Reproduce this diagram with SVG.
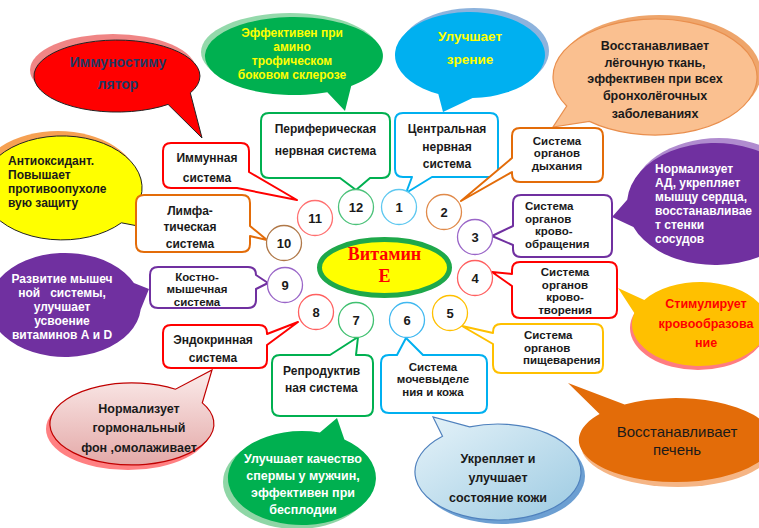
<svg xmlns="http://www.w3.org/2000/svg" width="759" height="528" viewBox="0 0 759 528">
<defs>
<linearGradient id="gPink" x1="0" y1="0" x2="0" y2="1"><stop offset="0" stop-color="#fbeceb"/><stop offset="1" stop-color="#e4a9a8"/></linearGradient>
<linearGradient id="gBlue" x1="0" y1="0" x2="1" y2="1"><stop offset="0" stop-color="#e6f3f9"/><stop offset="1" stop-color="#9ccae2"/></linearGradient>
<style>
.t{font-family:"Liberation Sans",Arial,sans-serif;font-weight:bold;font-size:12px;fill:#1a1a1a;text-anchor:middle}
.l{text-anchor:start}
.w{fill:#ffffff}
.y{fill:#ffff00}
.b{font-size:12.5px}
.s{font-size:11.5px}
.box{fill:#ffffff;stroke-width:2;stroke-linejoin:round}
.num{fill:#ffffff;stroke-width:1.3}
.n{font-size:13px}
</style>
</defs>
<rect width="759" height="528" fill="#ffffff"/>

<!-- speech bubbles -->
<g id="bubble-immunostimulator">
<ellipse cx="113" cy="70" rx="83" ry="36" fill="#f08585"/>
<path d="M168.1,104.4 A83,36 0 1 1 190.3,92.9 L202,138 Z" fill="#ff0000" stroke="#222" stroke-width="1"/>
<text class="t" x="118" y="67" style="font-size:14px;fill:#1f3864">Иммуностиму</text>
<text class="t" x="118" y="89" style="font-size:14px;fill:#1f3864">лятор</text>
</g>
<g id="bubble-sclerosis">
<ellipse cx="290" cy="52" rx="89" ry="39" fill="#94d9ab"/>
<path d="M327.3,92.2 A89,39 0 1 1 351.2,85.9 L345,111 Z" fill="#00b050"/>
<text class="t y" x="292" y="37">Эффективен при</text>
<text class="t y" x="292" y="51">амино</text>
<text class="t y" x="292" y="65">трофическом</text>
<text class="t y" x="292" y="79">боковом склерозе</text>
</g>
<g id="bubble-vision">
<ellipse cx="474" cy="51" rx="75" ry="43" fill="#8db3dd"/>
<path d="M438.3,94 A75,43 0 1 1 472.6,98 L443,112 Z" fill="#00b0f0"/>
<text class="t y" x="470" y="41" style="font-size:13.5px">Улучшает</text>
<text class="t y" x="470" y="64" style="font-size:13.5px">зрение</text>
</g>
<g id="bubble-lungs">
<ellipse cx="659" cy="73" rx="102" ry="58" fill="#eea56b"/>
<path d="M566.7,106 A102,58 0 1 1 589.4,121.4 L553,127 Z" fill="#fac090" stroke="#e98f4e" stroke-width="1.2"/>
<text class="t b" x="655" y="49.5">Восстанавливает</text>
<text class="t b" x="655" y="66.5">лёгочную ткань,</text>
<text class="t b" x="655" y="83">эффективен при всех</text>
<text class="t b" x="655" y="100">бронхолёгочных</text>
<text class="t b" x="655" y="117.5">заболеваниях</text>
</g>
<g id="bubble-antioxidant">
<ellipse cx="58" cy="183" rx="80" ry="52" fill="#f6a153"/>
<path d="M121.4,222.8 A80,52 0 1 1 138.1,204.1 L138,226 Z" fill="#ffff00" stroke="#222" stroke-width="1"/>
<text class="t l" x="8" y="164.5">Антиоксидант.</text>
<text class="t l" x="8" y="178.5">Повышает</text>
<text class="t l" x="8" y="192.5">противоопухоле</text>
<text class="t l" x="8" y="206.5">вую защиту</text>
</g>
<g id="bubble-muscles">
<path d="M140.7,309.5 A76,52 0 1 1 133.9,283 L149,289 Z" fill="#7030a0"/>
<text class="t w" x="62" y="283">Развитие мышеч</text>
<text class="t w" x="62" y="297" xml:space="preserve">ной   системы,</text>
<text class="t w" x="62" y="311">улучшает</text>
<text class="t w" x="62" y="325">усвоение</text>
<text class="t w" x="62" y="339">витаминов А и D</text>
</g>
<g id="bubble-heart">
<ellipse cx="719" cy="199" rx="88" ry="61" fill="#b08ccf"/>
<path d="M627.2,199.7 A88,61 0 1 1 633.4,226.9 L612,217 Z" fill="#7030a0"/>
<text class="t w l" x="655" y="173">Нормализует</text>
<text class="t w l" x="655" y="187">АД, укрепляет</text>
<text class="t w l" x="655" y="201">мышцу сердца,</text>
<text class="t w l" x="655" y="215">восстанавливае</text>
<text class="t w l" x="655" y="229">т стенки</text>
<text class="t w l" x="655" y="243">сосудов</text>
</g>
<g id="bubble-blood">
<ellipse cx="698" cy="328" rx="68" ry="42" fill="#ff7c80"/>
<path d="M644.3,299.9 A68,42 0 1 1 634.3,313.1 L618,288 Z" fill="#ffc000"/>
<text class="t b" x="706" y="307.5" style="fill:#ff0000">Стимулирует</text>
<text class="t b" x="706" y="327.5" style="fill:#ff0000">кровообразова</text>
<text class="t b" x="706" y="346.5" style="fill:#ff0000">ние</text>
</g>
<g id="bubble-liver">
<ellipse cx="678" cy="445" rx="97" ry="42" fill="#f5b585"/>
<path d="M624.6,404.4 A97,42 0 1 1 599.6,414.1 L568,383 Z" fill="#e36c09"/>
<text class="t" x="677" y="437" style="font-size:15px;font-weight:normal">Восстанавливает</text>
<text class="t" x="677" y="455" style="font-size:15px;font-weight:normal">печень</text>
</g>
<g id="bubble-skin">
<ellipse cx="502" cy="476" rx="83" ry="48" fill="#6c9fd2"/>
<path d="M469.6,426.9 A83,48 0 1 1 442.5,436.3 L433,417 Z" fill="url(#gBlue)" stroke="#4f81bd" stroke-width="1.2"/>
<text class="t b" x="498" y="462.5">Укрепляет и</text>
<text class="t b" x="498" y="481.5">улучшает</text>
<text class="t b" x="498" y="501.5">состояние кожи</text>
</g>
<g id="bubble-fertility">
<ellipse cx="297" cy="482" rx="74" ry="47" fill="#8fd6a6"/>
<path d="M344.4,439.5 A74,47 0 1 1 319.9,432.4 L337,418 Z" fill="#00b050"/>
<text class="t w b" x="303" y="462.5">Улучшает качество</text>
<text class="t w b" x="303" y="479.5">спермы у мужчин,</text>
<text class="t w b" x="303" y="496.5">эффективен при</text>
<text class="t w b" x="303" y="513.5">бесплодии</text>
</g>
<g id="bubble-hormones">
<ellipse cx="128" cy="429" rx="82" ry="41" fill="#ff8082"/>
<path d="M202.3,402.9 A82,41 0 1 1 175.5,389.2 L212,370 Z" fill="url(#gPink)" stroke="#c00000" stroke-width="1.2"/>
<text class="t b" x="139" y="412.5">Нормализует</text>
<text class="t b" x="139" y="431.5">гормональный</text>
<text class="t b" x="139" y="451.5">фон ,омолаживает</text>
</g>

<!-- system callouts -->
<g id="box-immune">
<path class="box" stroke="#ff0000" d="M171,143 H241 Q249,143 249,151 V172 L297,200 L237,188 H171 Q163,188 163,180 V151 Q163,143 171,143 Z"/>
<text class="t" x="207" y="161.5">Иммунная</text>
<text class="t" x="207" y="181.5">система</text>
</g>
<g id="box-peripheral">
<path class="box" stroke="#00b050" d="M269,113 H382 Q390,113 390,121 V170 Q390,178 382,178 H370 L356,190 L340,178 H269 Q261,178 261,170 V121 Q261,113 269,113 Z"/>
<text class="t" x="325.5" y="132.5">Периферическая</text>
<text class="t" x="325.5" y="154.5">нервная система</text>
</g>
<g id="box-central">
<path class="box" stroke="#00b0f0" d="M403,113 H490 Q498,113 498,121 V169 Q498,177 490,177 H432 L406,193 L412,177 H403 Q395,177 395,169 V121 Q395,113 403,113 Z"/>
<text class="t" x="447" y="132.5">Центральная</text>
<text class="t" x="447" y="150.5">нервная</text>
<text class="t" x="447" y="167.5">система</text>
</g>
<g id="box-respiratory">
<path class="box" stroke="#e36c09" d="M520,128 H595 Q603,128 603,136 V174 Q603,182 595,182 H520 Q512,182 512,174 V172 L461,201 L512,158 V136 Q512,128 520,128 Z"/>
<text class="t s" x="557" y="144.5">Система</text>
<text class="t s" x="557" y="157">органов</text>
<text class="t s" x="557" y="169.5">дыхания</text>
</g>
<g id="box-circulatory">
<path class="box" stroke="#7030a0" d="M521,195 H604 Q612,195 612,203 V249 Q612,257 604,257 H521 Q513,257 513,249 V245 L492,236 L513,226 V203 Q513,195 521,195 Z"/>
<text class="t s l" x="525" y="210">Система</text>
<text class="t s l" x="525" y="222.5">органов</text>
<text class="t s l" x="535" y="235">крово-</text>
<text class="t s l" x="525" y="247.5">обращения</text>
</g>
<g id="box-hematopoietic">
<path class="box" stroke="#ff0000" d="M520,262 H609 Q617,262 617,270 V310 Q617,318 609,318 H520 Q512,318 512,310 V286 L492,272 L512,274 V270 Q512,262 520,262 Z"/>
<text class="t s" x="565" y="276">Система</text>
<text class="t s" x="565" y="288.5">органов</text>
<text class="t s" x="565" y="301">крово-</text>
<text class="t s" x="565" y="313.5">творения</text>
</g>
<g id="box-digestive">
<path class="box" stroke="#ffc000" d="M501,324 H595 Q603,324 603,332 V365 Q603,373 595,373 H501 Q493,373 493,365 V344 L462,326 L493,333 V332 Q493,324 501,324 Z"/>
<text class="t s l" x="524" y="339">Система</text>
<text class="t s l" x="524" y="351.5">органов</text>
<text class="t s l" x="523" y="364">пищеварения</text>
</g>
<g id="box-urinary">
<path class="box" stroke="#00b0f0" d="M389,355 H397 L406,338 L423,355 H479 Q487,355 487,363 V405 Q487,413 479,413 H389 Q381,413 381,405 V363 Q381,355 389,355 Z"/>
<text class="t s" x="433" y="370.5">Система</text>
<text class="t s" x="433" y="383">мочевыделе</text>
<text class="t s" x="433" y="395.5">ния и кожа</text>
</g>
<g id="box-reproductive">
<path class="box" stroke="#00b050" d="M280,355 H330 L358,337 L356,355 H365 Q373,355 373,363 V408 Q373,416 365,416 H280 Q272,416 272,408 V363 Q272,355 280,355 Z"/>
<text class="t l" x="283" y="375.3">Репродуктив</text>
<text class="t l" x="285" y="392.3">ная система</text>
</g>
<g id="box-endocrine">
<path class="box" stroke="#ff0000" d="M171,325 H259 Q267,325 267,333 V334 L298,322 L267,345 V360 Q267,368 259,368 H171 Q163,368 163,360 V333 Q163,325 171,325 Z"/>
<text class="t" x="213" y="344.3">Эндокринная</text>
<text class="t" x="213" y="362.3">система</text>
</g>
<g id="box-musculoskeletal">
<path class="box" stroke="#7030a0" d="M158,267 H248 Q256,267 256,275 L268,283 L256,289 V300 Q256,308 248,308 H158 Q150,308 150,300 V275 Q150,267 158,267 Z"/>
<text class="t s" x="197" y="280.5">Костно-</text>
<text class="t s" x="197" y="293">мышечная</text>
<text class="t s" x="197" y="305.5">система</text>
</g>
<g id="box-lymphatic">
<path class="box" stroke="#e36c09" d="M144,195 H242 Q250,195 250,203 V226 L267,240 L250,236 V244 Q250,252 242,252 H144 Q136,252 136,244 V203 Q136,195 144,195 Z"/>
<text class="t" x="190" y="215.3">Лимфа-</text>
<text class="t" x="190" y="231.3">тическая</text>
<text class="t" x="190" y="248">система</text>
</g>

<!-- numbered circles -->
<g id="n12"><circle class="num" cx="356" cy="207" r="17.5" stroke="#4cc27a"/><text class="t n" x="356" y="211.5">12</text></g>
<g id="n1"><circle class="num" cx="399" cy="207" r="17.5" stroke="#5ec8f0"/><text class="t n" x="399" y="211.5">1</text></g>
<g id="n2"><circle class="num" cx="444" cy="212" r="17.5" stroke="#e08a4a"/><text class="t n" x="444" y="216.5">2</text></g>
<g id="n3"><circle class="num" cx="475" cy="237" r="17.5" stroke="#9a66c8"/><text class="t n" x="475" y="241.5">3</text></g>
<g id="n4"><circle class="num" cx="475" cy="278" r="17.5" stroke="#ff6060"/><text class="t n" x="475" y="282.5">4</text></g>
<g id="n5"><circle class="num" cx="450" cy="313" r="17.5" stroke="#ffc000"/><text class="t n" x="450" y="317.5">5</text></g>
<g id="n6"><circle class="num" cx="407" cy="320" r="17.5" stroke="#40b8f0"/><text class="t n" x="407" y="324.5">6</text></g>
<g id="n7"><circle class="num" cx="356" cy="320" r="17.5" stroke="#40c070"/><text class="t n" x="356" y="324.5">7</text></g>
<g id="n8"><circle class="num" cx="316" cy="312" r="17.5" stroke="#ff6060"/><text class="t n" x="316" y="316.5">8</text></g>
<g id="n9"><circle class="num" cx="285" cy="285" r="17.5" stroke="#9a66c8"/><text class="t n" x="285" y="289.5">9</text></g>
<g id="n10"><circle class="num" cx="284" cy="243" r="17.5" stroke="#b07848"/><text class="t n" x="284" y="247.5">10</text></g>
<g id="n11"><circle class="num" cx="315" cy="218" r="17.5" stroke="#ff7070"/><text class="t n" x="315" y="222.5">11</text></g>

<!-- center -->
<g id="vitamin-e">
<ellipse cx="384.5" cy="267.5" rx="65" ry="28" fill="#ffff00" stroke="#1ea84a" stroke-width="5"/>
<text x="384.5" y="260" text-anchor="middle" style="font-family:'Liberation Serif','Times New Roman',serif;font-weight:bold;font-size:18px;fill:#ff0000">Витамин</text>
<text x="384.5" y="282" text-anchor="middle" style="font-family:'Liberation Serif','Times New Roman',serif;font-weight:bold;font-size:18px;fill:#ff0000">Е</text>
</g>
</svg>
